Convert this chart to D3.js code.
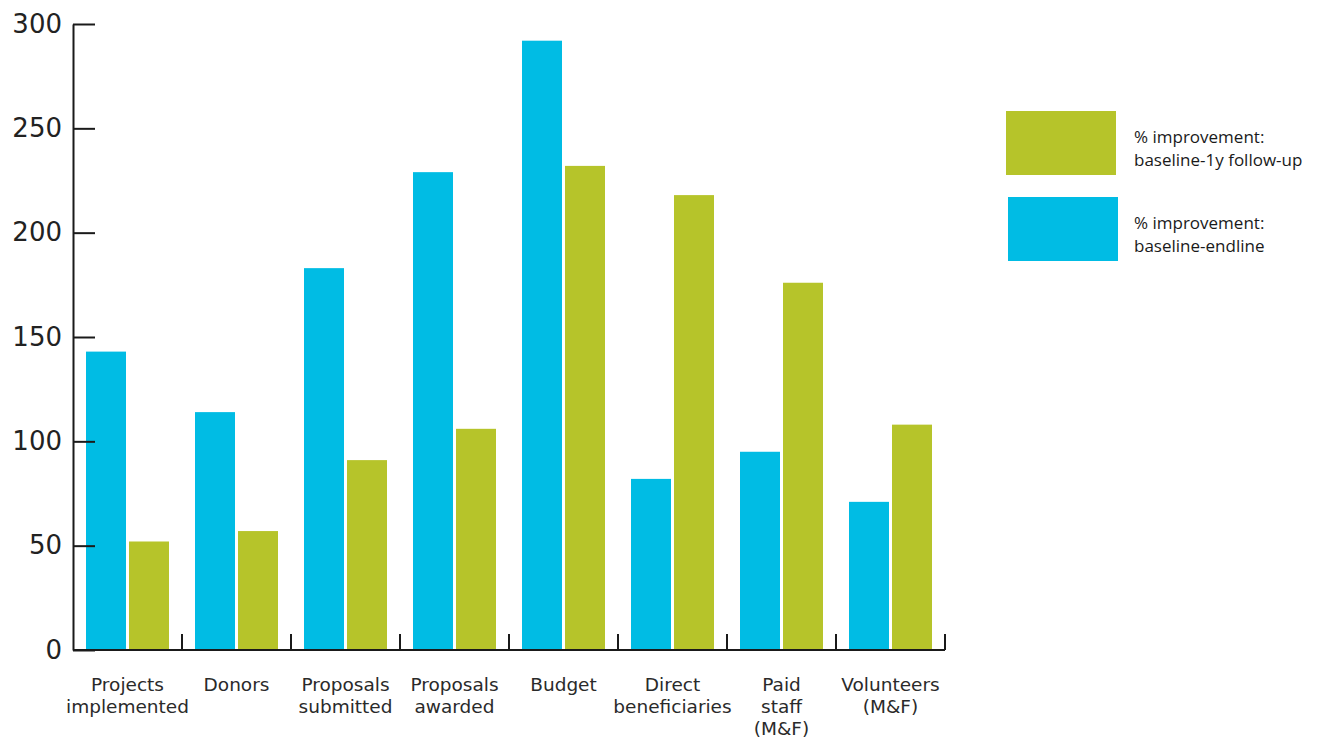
<!DOCTYPE html>
<html>
<head>
<meta charset="utf-8">
<script src="https://cdn.jsdelivr.net/npm/d3@7"></script>
<style>
  body { margin: 0; background: #fff; }
</style>
</head>
<body>
<div id="chart"></div>
<script>
// categories, each one split into lines for the label
var categories = [
  ["Projects", "implemented"],
  ["Donors"],
  ["Proposals", "submitted"],
  ["Proposals", "awarded"],
  ["Budget"],
  ["Direct", "beneficiaries"],
  ["Paid", "staff", "(M&F)"],
  ["Volunteers", "(M&F)"]
];
var seriesNames = ["endline", "followup"];
var endlineValues = [143, 114, 183, 229, 292, 82, 95, 71];
var followupValues = [52, 57, 91, 106, 232, 218, 176, 108];
var yTicks = [0, 50, 100, 150, 200, 250, 300];
var legendLabels = [
  ["% improvement:", "baseline-1y follow-up"],
  ["% improvement:", "baseline-endline"]
];

var width = 1320,
  height = 738,
  padding = { top: 24, right: 375, bottom: 88, left: 73 };

var colors = { endline: "#00bce4", followup: "#b6c42a" };

var svg = d3.select("#chart")
  .append("svg")
  .attr("width", width)
  .attr("height", height);

var keys = categories.map(function (c) { return c.join(" "); });

// x scales
var x0 = d3.scaleBand()
  .domain(keys)
  .range([padding.left, width - padding.right]);
var x1 = d3.scaleBand()
  .domain(seriesNames)
  .range([13, x0.bandwidth() - 13])
  .paddingInner(0.07);

// y scale
var yScale = d3.scaleLinear()
  .domain([0, 300])
  .range([height - padding.bottom, padding.top]);

// bars
var groups = svg.selectAll(".cat")
  .data(keys)
  .enter().append("g")
  .attr("class", "cat")
  .attr("transform", function (d) { return "translate(" + x0(d) + ",0)"; });

groups.selectAll("rect")
  .data(function (d, i) {
    return [
      { key: "endline", value: endlineValues[i] },
      { key: "followup", value: followupValues[i] }
    ];
  })
  .enter().append("rect")
  .attr("x", function (d) { return x1(d.key); })
  .attr("width", x1.bandwidth())
  .attr("y", function (d) { return yScale(d.value); })
  .attr("height", function (d) { return yScale(0) - yScale(d.value); })
  .attr("fill", function (d) { return colors[d.key]; });

// y axis
var yAxis = d3.axisLeft(yScale)
  .tickValues(yTicks)
  .tickSizeInner(-22)
  .tickSizeOuter(0)
  .tickPadding(11);
var yg = svg.append("g")
  .attr("transform", "translate(" + padding.left + ",0)")
  .call(yAxis);
yg.selectAll("path, line").attr("stroke", "#1a1a1a").attr("stroke-width", 2);
yg.selectAll("text")
  .attr("font-family", "DejaVu Sans")
  .attr("font-size", "26px")
  .attr("fill", "#222");

// x axis baseline + ticks at band edges
var xg = svg.append("g");
xg.append("line")
  .attr("x1", padding.left)
  .attr("x2", x0.range()[1])
  .attr("y1", yScale(0))
  .attr("y2", yScale(0))
  .attr("stroke", "#1a1a1a")
  .attr("stroke-width", 2);
xg.selectAll(".xtick")
  .data(keys)
  .enter().append("line")
  .attr("class", "xtick")
  .attr("x1", function (d) { return x0(d) + x0.bandwidth(); })
  .attr("x2", function (d) { return x0(d) + x0.bandwidth(); })
  .attr("y1", yScale(0))
  .attr("y2", yScale(0) - 16)
  .attr("stroke", "#1a1a1a")
  .attr("stroke-width", 2);

var labels = xg.selectAll(".xlabel")
  .data(categories)
  .enter().append("text")
  .attr("class", "xlabel")
  .attr("text-anchor", "middle")
  .attr("font-family", "DejaVu Sans")
  .attr("font-size", "18.5px")
  .attr("fill", "#2a2a2a")
  .attr("x", function (d, i) { return x0(keys[i]) + x0.bandwidth() / 2; })
  .attr("y", 691);
labels.selectAll("tspan")
  .data(function (d) { return d; })
  .enter().append("tspan")
  .attr("x", function () { return d3.select(this.parentNode).attr("x"); })
  .attr("dy", function (d, i) { return i === 0 ? 0 : 22; })
  .text(function (d) { return d; });

// legend
var legendKeys = ["followup", "endline"];
var legend = svg.selectAll(".legend")
  .data(legendKeys)
  .enter().append("g")
  .attr("class", "legend")
  .attr("transform", function (d, i) { return "translate(" + (1006 + i * 2) + "," + (111 + i * 86) + ")"; });
legend.append("rect")
  .attr("width", 110)
  .attr("height", 64)
  .attr("fill", function (d) { return colors[d]; });
legend.append("text")
  .attr("font-family", "Open Sans")
  .attr("font-size", "17px")
  .attr("fill", "#1a1a1a")
  .attr("x", function (d, i) { return 128 - i * 2; })
  .attr("y", 32)
  .selectAll("tspan")
  .data(function (d, i) { return legendLabels[i]; })
  .enter().append("tspan")
  .attr("x", function () { return d3.select(this.parentNode).attr("x"); })
  .attr("dy", function (d, i) { return i === 0 ? 0 : 23; })
  .text(function (d) { return d; });
</script>
</body>
</html>
